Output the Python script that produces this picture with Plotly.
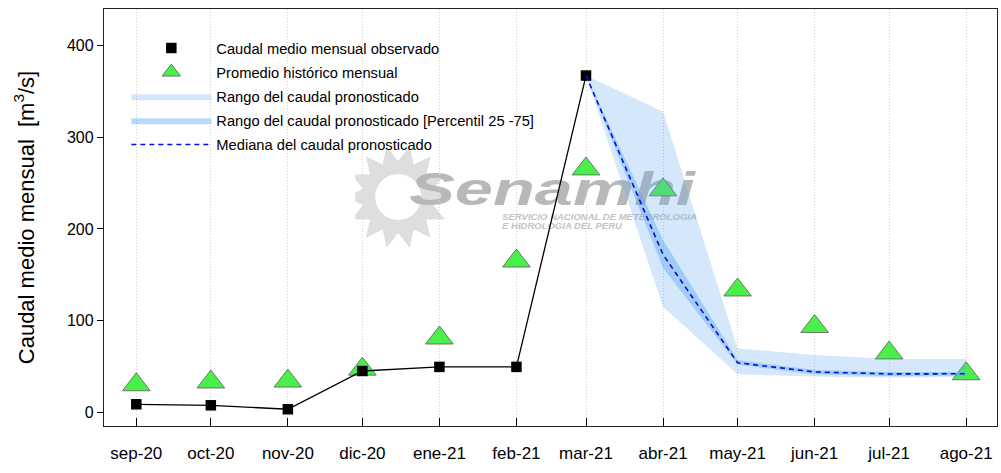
import base64
import math
import plotly.graph_objects as go

# ---------------- data ----------------
month_dates = ["2020-09-01", "2020-10-01", "2020-11-01", "2020-12-01", "2021-01-01", "2021-02-01",
               "2021-03-01", "2021-04-01", "2021-05-01", "2021-06-01", "2021-07-01", "2021-08-01"]
month_labels = ["sep-20", "oct-20", "nov-20", "dic-20", "ene-21", "feb-21",
                "mar-21", "abr-21", "may-21", "jun-21", "jul-21", "ago-21"]

observed_dates = month_dates[:7]
observed_flow = [8.7, 7.6, 3.3, 45, 49.5, 49.5, 367.4]

historic_flow = [30, 33, 34, 47, 81, 165, 265.5, 242.7, 133.4, 93.5, 64.7, 42]

forecast_dates = month_dates[6:]
range_min = [367.4, 115, 41.5, 39, 38, 38.5]
range_max = [367.4, 328, 69.5, 62.5, 58, 58]
p25 = [367.4, 157.5, 52, 41.5, 39.5, 40]
p75 = [367.4, 188, 57, 46, 44, 44]
median = [367.4, 172, 54, 44, 41.8, 42]

y_ticks = [0, 100, 200, 300, 400]

# ---------------- figure ----------------
FONT = "Liberation Sans, Arial, sans-serif"
fig = go.Figure()

# historic average (drawn first, below the bands)
fig.add_trace(go.Scatter(
    x=month_dates, y=historic_flow, mode="markers", name="Promedio histórico mensual",
    marker=dict(symbol="triangle-up", size=24, color="#4af04a",
                line=dict(color="#5a5a5a", width=0.8)),
    legendrank=2, legendgroup="g2"))

# full forecast range
fig.add_trace(go.Scatter(
    x=forecast_dates, y=range_min, mode="lines", line=dict(width=0, color="rgba(0,0,0,0)"),
    showlegend=False, hoverinfo="skip", legendgroup="g3"))
fig.add_trace(go.Scatter(
    x=forecast_dates, y=range_max, mode="lines", line=dict(width=0, color="rgba(0,0,0,0)"),
    fill="tonexty", fillcolor="rgba(100,170,240,0.28)", name="Rango del caudal pronosticado",
    legendrank=3, legendgroup="g3"))

# P25-P75 range
fig.add_trace(go.Scatter(
    x=forecast_dates, y=p25, mode="lines", line=dict(width=0, color="rgba(0,0,0,0)"),
    showlegend=False, hoverinfo="skip", legendgroup="g4"))
fig.add_trace(go.Scatter(
    x=forecast_dates, y=p75, mode="lines", line=dict(width=0, color="rgba(0,0,0,0)"),
    fill="tonexty", fillcolor="rgba(100,170,240,0.45)",
    name="Rango del caudal pronosticado [Percentil 25 -75]",
    legendrank=4, legendgroup="g4"))

# observed: connecting line (no legend) + square markers (legend)
fig.add_trace(go.Scatter(
    x=observed_dates, y=observed_flow, mode="lines",
    line=dict(color="black", width=1.3), showlegend=False, hoverinfo="skip",
    legendgroup="g1"))
fig.add_trace(go.Scatter(
    x=observed_dates, y=observed_flow, mode="markers", name="Caudal medio mensual observado",
    marker=dict(symbol="square", size=10.5, color="black"),
    legendrank=1, legendgroup="g1"))

# median
fig.add_trace(go.Scatter(
    x=forecast_dates, y=median, mode="lines", name="Mediana del caudal pronosticado",
    line=dict(color="#0a0ae6", width=1.6, dash="5px,4px"),
    legendrank=5, legendgroup="g5"))

# ---------------- watermark (SENAMHI logo, decorative) ----------------
cx, cy, r_out, r_in = 43, 57, 52, 36
pts = []
n_rays = 14
for i in range(n_rays * 2):
    ang = math.pi * i / n_rays
    r = r_out if i % 2 == 0 else r_in
    pts.append(f"{cx + r * math.cos(ang):.1f},{cy + r * math.sin(ang):.1f}")
svg = f'''<svg xmlns="http://www.w3.org/2000/svg" width="360" height="120" viewBox="0 0 360 120">
<polygon points="{' '.join(pts)}" fill="#dedede"/>
<circle cx="{cx}" cy="{cy}" r="23" fill="white"/>
<text x="54" y="65" font-family="Liberation Sans, Arial" font-weight="bold" font-style="italic"
 font-size="47" fill="#b8b8b8" textLength="286" lengthAdjust="spacingAndGlyphs">Senamhi</text>
<text x="147" y="80" font-family="Liberation Sans, Arial" font-weight="bold" font-style="italic"
 font-size="8.5" fill="#c3c3c3" textLength="195" lengthAdjust="spacingAndGlyphs">SERVICIO NACIONAL DE METEOROLOGIA</text>
<text x="147" y="89" font-family="Liberation Sans, Arial" font-weight="bold" font-style="italic"
 font-size="8.5" fill="#c3c3c3" textLength="120" lengthAdjust="spacingAndGlyphs">E HIDROLOGIA DEL PERU</text>
</svg>'''
svg_uri = "data:image/svg+xml;base64," + base64.b64encode(svg.encode("utf-8")).decode("ascii")

L, R, T, B = 103.5, 997.5, 9, 426
pw, ph = R - L, B - T
fig.add_layout_image(dict(
    source=svg_uri, xref="paper", yref="paper",
    x=(355 - L) / pw, y=(B - 140) / ph, sizex=360 / pw, sizey=120 / ph,
    xanchor="left", yanchor="top", sizing="stretch", layer="below"))

fig.update_layout(
    width=1001, height=473,
    margin=dict(l=L, r=1001 - R, t=T, b=473 - B, autoexpand=False),
    paper_bgcolor="white", plot_bgcolor="rgba(0,0,0,0)",
    font=dict(family=FONT, color="black"),
    showlegend=True,
    legend=dict(x=0.025, y=0.945, xanchor="left", yanchor="top",
                bgcolor="rgba(0,0,0,0)", font=dict(size=14.7, family=FONT),
                itemwidth=80, tracegroupgap=2, traceorder="grouped"),
    xaxis=dict(
        type="date", range=["2020-08-19", "2021-08-13 10:00"], automargin=False,
        tickvals=month_dates, ticktext=month_labels,
        ticks="inside", ticklen=8, tickwidth=1.2, tickcolor="black",
        ticklabelstandoff=11,
        tickfont=dict(size=17, family=FONT, color="black"),
        showgrid=True, gridcolor="#cfcfcf", griddash="1px,2px", gridwidth=1,
        showline=True, linecolor="#222", linewidth=1.3, mirror=True, zeroline=False),
    yaxis=dict(
        range=[-15, 440], tickvals=y_ticks, automargin=False,
        ticks="outside", ticklen=6, tickwidth=1.2, tickcolor="black",
        tickfont=dict(size=16, family=FONT, color="black"),
        showgrid=False, showline=True, linecolor="#222", linewidth=1.3, mirror=True,
        zeroline=False,
        title=dict(text="Caudal medio mensual\u00a0\u00a0[m<sup>3</sup>/s]",
                   font=dict(size=22, family=FONT, color="black"), standoff=26)),
)

fig.write_html("out.html", config={"displayModeBar": False},
               post_script="document.body.style.margin='0';")
